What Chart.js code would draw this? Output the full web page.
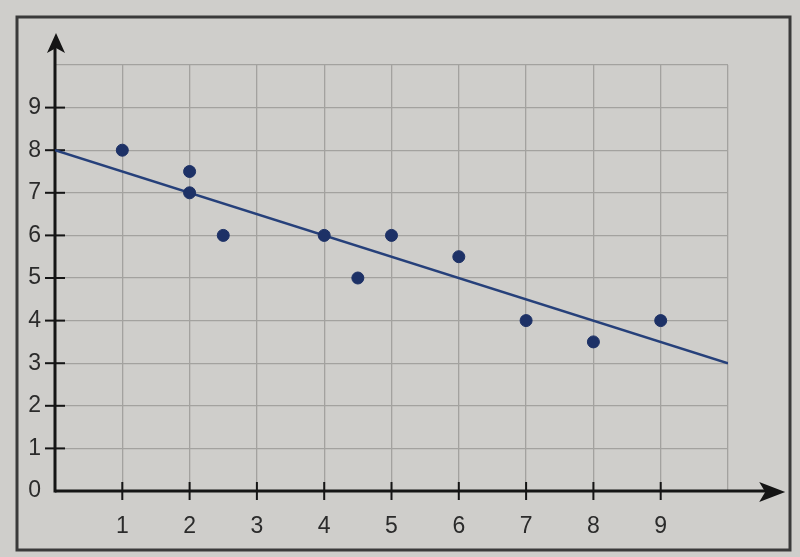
<!DOCTYPE html>
<html>
<head>
<meta charset="utf-8">
<script src="https://cdn.jsdelivr.net/npm/chart.js@4"></script>
<style>
  html, body { margin: 0; padding: 0; background: #cfcecb; }
  #wrap { width: 800px; height: 557px; position: relative; }
</style>
</head>
<body>
<div id="wrap"><canvas id="c" width="800" height="557"></canvas></div>
<script>
// Data
const pointX = [1, 2, 2, 2.5, 4, 4.5, 5, 6, 7, 8, 9];
const pointY = [8, 7.5, 7, 6, 6, 5, 6, 5.5, 4, 3.5, 4];
const lineX = [0, 10];
const lineY = [8, 3];
const xTickLabels = [1, 2, 3, 4, 5, 6, 7, 8, 9];
const yTickLabels = [0, 1, 2, 3, 4, 5, 6, 7, 8, 9];

const points = pointX.map((x, i) => ({ x: x, y: pointY[i] }));
const fitLine = lineX.map((x, i) => ({ x: x, y: lineY[i] }));

const ink = '#2b2b2b';
const gridColor = '#a3a29f';

const framePlugin = {
  id: 'frame',
  beforeDraw(chart) {
    const c = chart.ctx;
    c.save();
    c.fillStyle = '#cfcecb';
    c.fillRect(0, 0, chart.width, chart.height);
    c.strokeStyle = '#3a3a3a';
    c.lineWidth = 3;
    c.strokeRect(17, 17, 773, 533);
    c.restore();
  },
  afterDatasetsDraw(chart) {}
};

const axesPlugin = {
  id: 'arrowAxes',
  beforeDatasetsDraw(chart) {
    const c = chart.ctx;
    const xs = chart.scales.x, ys = chart.scales.y;
    const x0 = xs.getPixelForValue(0), y0 = ys.getPixelForValue(0);
    c.save();
    c.strokeStyle = '#151515';
    c.fillStyle = '#151515';
    c.lineWidth = 3;
    // x axis
    const xEnd = xs.getPixelForValue(10.85);
    c.beginPath(); c.moveTo(x0, y0); c.lineTo(xEnd - 14, y0); c.stroke();
    c.beginPath(); c.moveTo(xEnd, y0 + 1); c.lineTo(xEnd - 26, y0 - 9); c.lineTo(xEnd - 20, y0 + 1); c.lineTo(xEnd - 26, y0 + 11); c.closePath(); c.fill();
    // y axis
    const yEnd = ys.getPixelForValue(10.75);
    c.beginPath(); c.moveTo(x0, y0 + 1.5); c.lineTo(x0, yEnd + 14); c.stroke();
    c.beginPath(); c.moveTo(x0 + 1, yEnd); c.lineTo(x0 - 8, yEnd + 20); c.lineTo(x0 + 1, yEnd + 15); c.lineTo(x0 + 10, yEnd + 20); c.closePath(); c.fill();
    // tick marks
    c.lineWidth = 2;
    xTickLabels.forEach(v => {
      const px = xs.getPixelForValue(v);
      c.beginPath(); c.moveTo(px, y0 - 9); c.lineTo(px, y0 + 9); c.stroke();
    });
    yTickLabels.filter(v => v > 0).forEach(v => {
      const py = ys.getPixelForValue(v);
      c.beginPath(); c.moveTo(x0 - 10, py); c.lineTo(x0 + 10, py); c.stroke();
    });
    c.restore();
  }
};

new Chart(document.getElementById('c'), {
  type: 'scatter',
  data: {
    datasets: [
      {
        type: 'line',
        data: fitLine,
        borderColor: '#26407a',
        borderWidth: 2.5,
        pointRadius: 0,
        fill: false,
        order: 2
      },
      {
        data: points,
        backgroundColor: '#1d3166',
        borderColor: '#1d3166',
        pointRadius: 6,
        pointHoverRadius: 6,
        order: 1
      }
    ]
  },
  options: {
    responsive: false,
    animation: false,
    events: [],
    layout: { padding: { top: 65, right: 72, left: 0, bottom: 0 } },
    plugins: { legend: { display: false }, tooltip: { enabled: false } },
    scales: {
      x: {
        type: 'linear',
        min: 0, max: 10,
        afterFit(scale) { scale.height = 66; },
        border: { display: false },
        grid: {
          drawTicks: false,
          color: (ctx) => (ctx.tick && ctx.tick.value > 0) ? gridColor : 'rgba(0,0,0,0)',
          lineWidth: 1.3
        },
        ticks: {
          stepSize: 1,
          padding: 22,
          color: ink,
          font: { family: 'Liberation Sans', size: 23 },
          callback: (v) => xTickLabels.includes(v) ? String(v) : ''
        }
      },
      y: {
        type: 'linear',
        min: 0, max: 10,
        afterFit(scale) { scale.width = 55; },
        border: { display: false },
        grid: {
          drawTicks: false,
          color: (ctx) => (ctx.tick && ctx.tick.value > 0) ? gridColor : 'rgba(0,0,0,0)',
          lineWidth: 1.3
        },
        ticks: {
          stepSize: 1,
          padding: 14,
          color: ink,
          font: { family: 'Liberation Sans', size: 23 },
          callback: (v) => yTickLabels.includes(v) ? String(v) : ''
        }
      }
    }
  },
  plugins: [framePlugin, axesPlugin]
});
</script>
</body>
</html>
